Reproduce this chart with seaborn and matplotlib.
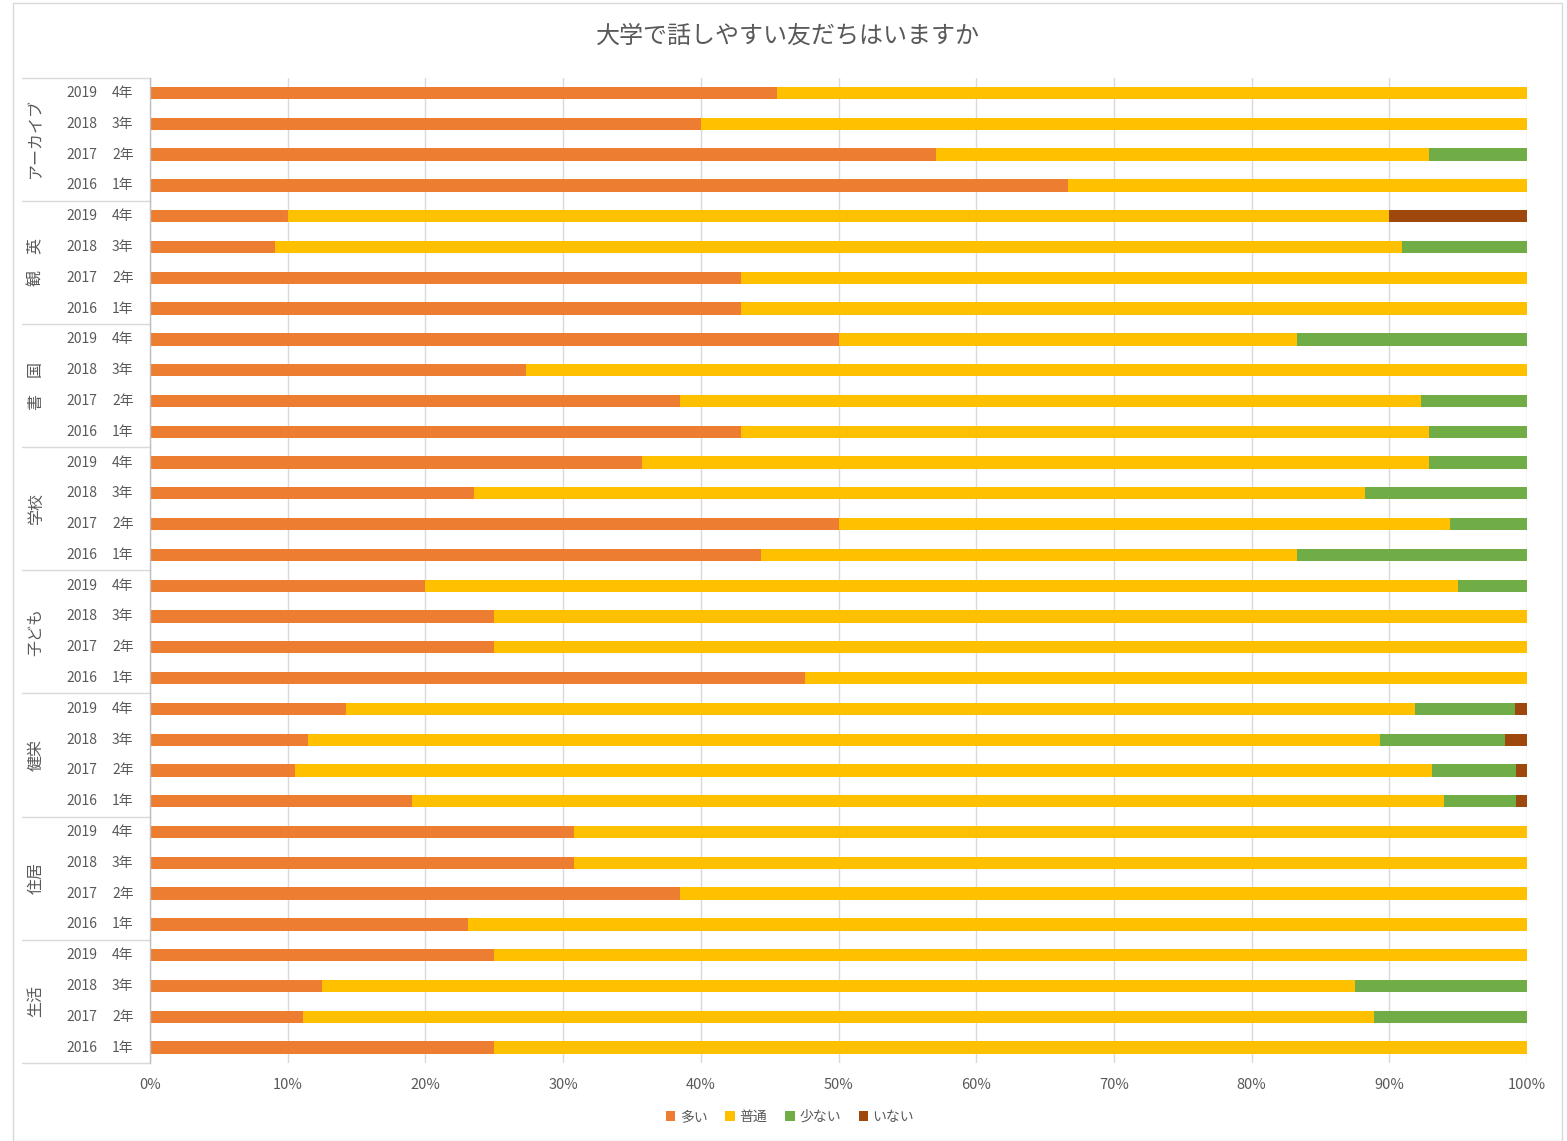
import numpy as np
import pandas as pd
import matplotlib.pyplot as plt
import seaborn as sns
from matplotlib.patches import Rectangle
from matplotlib.transforms import blended_transform_factory

# === Data (top to bottom) ===
groups = ["アーカイブ", "観　英", "書　国", "学校", "子ども", "健栄", "住居", "生活"]
years = ["2019", "2018", "2017", "2016"]
grades = ["4年", "3年", "2年", "1年"]
series = ["多い", "普通", "少ない", "いない"]
colors = ["#ED7D31", "#FFC000", "#70AD47", "#9E480E"]

ooi = [45.5, 40.0, 57.1, 66.7,
       10.0, 9.1, 42.9, 42.9,
       50.0, 27.3, 38.5, 42.9,
       35.7, 23.5, 50.0, 44.4,
       20.0, 25.0, 25.0, 47.6,
       14.2, 11.5, 10.5, 19.0,
       30.8, 30.8, 38.5, 23.1,
       25.0, 12.5, 11.1, 25.0]
futsu = [54.5, 60.0, 35.8, 33.3,
         80.0, 81.8, 57.1, 57.1,
         33.3, 72.7, 53.8, 50.0,
         57.2, 64.7, 44.4, 38.9,
         75.0, 75.0, 75.0, 52.4,
         77.7, 77.8, 82.6, 75.0,
         69.2, 69.2, 61.5, 76.9,
         75.0, 75.0, 77.8, 75.0]
sukunai = [0, 0, 7.1, 0,
           0, 9.1, 0, 0,
           16.7, 0, 7.7, 7.1,
           7.1, 11.8, 5.6, 16.7,
           5.0, 0, 0, 0,
           7.2, 9.1, 6.1, 5.2,
           0, 0, 0, 0,
           0, 12.5, 11.1, 0]
inai = [0, 0, 0, 0,
        10.0, 0, 0, 0,
        0, 0, 0, 0,
        0, 0, 0, 0,
        0, 0, 0, 0,
        0.9, 1.6, 0.8, 0.8,
        0, 0, 0, 0,
        0, 0, 0, 0]

# === Build table (100% stacked) ===
rows = [f"{g}|{y}" for g in groups for y in years]
df = pd.DataFrame({"row": rows, "多い": ooi, "普通": futsu, "少ない": sukunai, "いない": inai})
total = df[series].sum(axis=1)
for s in series:
    df[s] = df[s] / total * 100
cum = df[series].cumsum(axis=1)
cum["いない"] = 100.0

# === Setup ===
sns.set_theme(style="white")
plt.rcParams["font.family"] = ["Noto Sans CJK JP", "DejaVu Sans"]
txt = "#595959"

W, H = 1567, 1141
fig = plt.figure(figsize=(W / 100, H / 100), dpi=100)
ax = fig.add_axes([150 / W, 1 - 1063 / H, 1377 / W, (1063 - 77.6) / H])

# layered cumulative bars -> stacked look
for s, c in reversed(list(zip(series, colors))):
    sns.barplot(x=cum[s], y=df["row"], order=rows, color=c, width=0.4,
                label=s, ax=ax, saturation=1, edgecolor="none", linewidth=0)
h, l = ax.get_legend_handles_labels()
if ax.legend_ is not None:
    ax.legend_.remove()

ax.set_xlim(0, 100)
ax.set_xticks(np.arange(0, 101, 10))
ax.set_xticklabels([f"{t}%" for t in range(0, 101, 10)], color=txt, fontsize=10.5)
ax.tick_params(axis="x", length=0, pad=11)
ax.set_yticks([])
ax.set_xlabel("")
ax.set_ylabel("")
ax.xaxis.grid(True, color="#D9D9D9", linewidth=1)
ax.set_axisbelow(True)
for sp in ["top", "right", "bottom"]:
    ax.spines[sp].set_visible(False)
ax.spines["left"].set_color("#BFBFBF")
ax.spines["left"].set_linewidth(1)

# === Multi-level category labels ===
tr = blended_transform_factory(ax.transAxes, ax.transData)
px = lambda p: (p - 150) / 1377
for i, r in enumerate(rows):
    ax.text(px(97), i, years[i % 4], transform=tr, ha="right", va="center",
            fontsize=10, color=txt)
    ax.text(px(112), i, grades[i % 4], transform=tr, ha="left", va="center",
            fontsize=10, color=txt)
for gi, g in enumerate(groups):
    ax.text(px(36), gi * 4 + 1.5, g, transform=tr, ha="center", va="center",
            rotation=90, fontsize=11.5, color=txt)
for k in range(len(groups) + 1):
    yy = k * 4 - 0.5
    ax.plot([px(22), 0], [yy, yy], transform=tr, color="#D9D9D9",
            linewidth=1, clip_on=False)
ax.set_ylim(len(rows) - 0.5, -0.5)

# === Title & legend ===
fig.text(788 / W, 1 - 36 / H, "大学で話しやすい友だちはいますか", ha="center",
         va="center", fontsize=17.3, color=txt)
leg = fig.legend(h[::-1], l[::-1], loc="center", bbox_to_anchor=(790 / W, 1 - 1117 / H),
                 ncol=4, frameon=False, handlelength=0.7, handleheight=0.7,
                 handletextpad=0.3, columnspacing=1.3, fontsize=10)
for t in leg.get_texts():
    t.set_color(txt)

# chart border
fig.patches.append(Rectangle((13 / W, 0), 1549 / W, 1 - 3 / H, transform=fig.transFigure,
                             fill=False, edgecolor="#D9D9D9", linewidth=1))

fig.savefig("out.png", dpi=100)
